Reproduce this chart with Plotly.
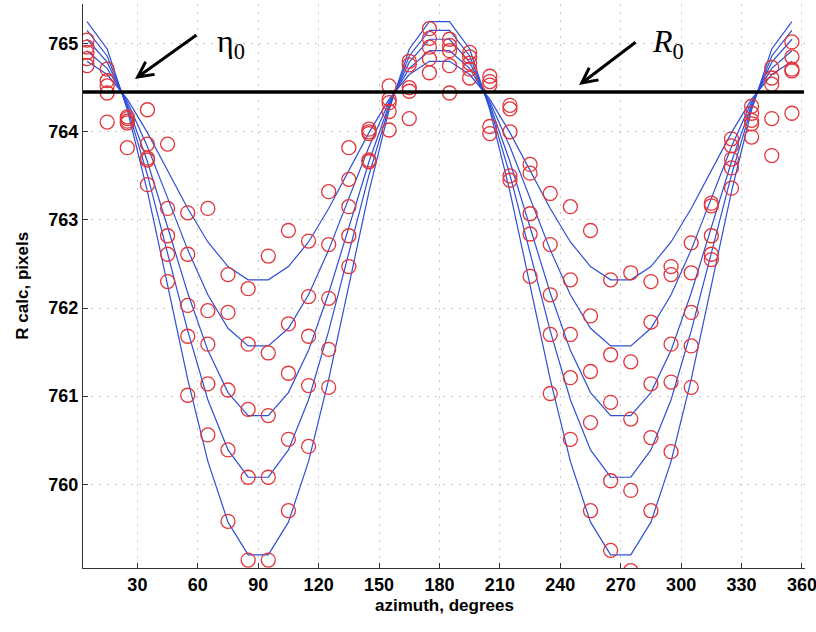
import plotly.graph_objects as go

# ---------------- data ----------------
azimuth = [5, 15, 25, 35, 45, 55, 65, 75, 85, 95, 105, 115, 125, 135, 145, 155, 165, 175,
           185, 195, 205, 215, 225, 235, 245, 255, 265, 275, 285, 295, 305, 315, 325, 335, 345, 355]

R0 = 764.45

# fitted curves (blue lines)
fit1 = [764.80, 764.65, 764.37, 763.99, 763.56, 763.13, 762.75, 762.47, 762.32,
        762.32, 762.47, 762.75, 763.13, 763.56, 763.99, 764.37, 764.65, 764.80,
        764.80, 764.65, 764.37, 763.99, 763.56, 763.13, 762.75, 762.47, 762.32,
        762.32, 762.47, 762.75, 763.13, 763.56, 763.99, 764.37, 764.65, 764.80]
fit2 = [764.92, 764.72, 764.34, 763.83, 763.25, 762.66, 762.15, 761.77, 761.57,
        761.57, 761.77, 762.15, 762.66, 763.25, 763.83, 764.34, 764.72, 764.92,
        764.92, 764.72, 764.34, 763.83, 763.25, 762.66, 762.15, 761.77, 761.57,
        761.57, 761.77, 762.15, 762.66, 763.25, 763.83, 764.34, 764.72, 764.92]
fit3 = [765.05, 764.79, 764.31, 763.66, 762.92, 762.17, 761.52, 761.04, 760.78,
        760.78, 761.04, 761.52, 762.17, 762.92, 763.66, 764.31, 764.79, 765.05,
        765.05, 764.79, 764.31, 763.66, 762.92, 762.17, 761.52, 761.04, 760.78,
        760.78, 761.04, 761.52, 762.17, 762.92, 763.66, 764.31, 764.79, 765.05]
fit4 = [765.15, 764.86, 764.28, 763.51, 762.62, 761.74, 760.96, 760.39, 760.08,
        760.08, 760.39, 760.96, 761.74, 762.62, 763.51, 764.28, 764.86, 765.15,
        765.15, 764.86, 764.28, 763.51, 762.62, 761.74, 760.96, 760.39, 760.08,
        760.08, 760.39, 760.96, 761.74, 762.62, 763.51, 764.28, 764.86, 765.15]
fit5 = [765.25, 764.94, 764.25, 763.32, 762.26, 761.19, 760.26, 759.57, 759.20,
        759.20, 759.57, 760.26, 761.19, 762.26, 763.32, 764.25, 764.94, 765.25,
        765.25, 764.94, 764.25, 763.32, 762.26, 761.19, 760.26, 759.57, 759.20,
        759.20, 759.57, 760.26, 761.19, 762.26, 763.32, 764.25, 764.94, 765.25]

# measured values (red circles)
meas1 = [764.75, 764.11, 764.17, 764.25, 763.86, 763.08, 763.13, 762.38, 762.22,
         762.59, 762.88, 762.76, 763.32, 763.82, 764.03, 764.52, 764.15, 764.67,
         764.44, 764.61, 764.63, 764.30, 763.63, 763.30, 763.15, 762.88, 762.32,
         762.40, 762.30, 762.47, 762.74, 763.19, 763.92, 764.29, 763.73, 764.21]
meas2 = [764.83, 764.44, 764.15, 763.86, 763.13, 762.61, 761.97, 761.95, 761.59,
         761.49, 761.82, 762.13, 762.72, 763.46, 764.00, 764.37, 764.46, 764.83,
         764.75, 764.71, 764.57, 764.26, 763.53, 762.72, 762.32, 761.91, 761.47,
         761.39, 761.84, 762.38, 762.40, 763.16, 763.84, 764.21, 764.15, 764.69]
meas3 = [764.90, 764.52, 764.12, 763.70, 762.82, 762.03, 761.59, 761.07, 760.85,
         760.78, 761.26, 761.68, 762.11, 763.15, 763.98, 764.33, 764.50, 764.96,
         764.92, 764.78, 764.53, 764.00, 763.07, 762.15, 761.70, 761.28, 760.93,
         760.74, 761.14, 761.59, 761.95, 762.82, 763.69, 764.13, 764.54, 764.71]
meas4 = [764.96, 764.58, 764.10, 763.68, 762.61, 761.68, 761.14, 760.39, 760.08,
         760.08, 760.51, 761.12, 761.53, 762.82, 763.68, 764.23, 764.76, 765.06,
         764.98, 764.85, 764.06, 763.50, 762.84, 761.70, 761.21, 760.70, 760.04,
         759.93, 760.53, 761.16, 761.57, 762.61, 763.59, 764.09, 764.61, 764.85]
meas5 = [765.04, 764.71, 763.82, 763.40, 762.30, 761.01, 760.56, 759.58, 759.14,
         759.14, 759.70, 760.43, 761.10, 762.47, 763.66, 764.02, 764.80, 765.17,
         765.05, 764.90, 763.98, 763.45, 762.36, 761.03, 760.51, 759.70, 759.25,
         759.02, 759.70, 760.37, 761.10, 762.55, 763.36, 763.94, 764.73, 765.02]

x_ticks = [30, 60, 90, 120, 150, 180, 210, 240, 270, 300, 330, 360]
y_ticks = [760, 761, 762, 763, 764, 765]

fits = [fit1, fit2, fit3, fit4, fit5]
measured = [meas1, meas2, meas3, meas4, meas5]

BLUE = "#2d4fd6"
RED = "#e2343a"

fig = go.Figure()
for f in fits:
    fig.add_trace(go.Scatter(x=azimuth, y=f, mode="lines",
                             line=dict(color=BLUE, width=1.2),
                             showlegend=False, hoverinfo="skip"))
for m in measured:
    fig.add_trace(go.Scatter(x=azimuth, y=m, mode="markers",
                             marker=dict(symbol="circle-open", size=14,
                                         color=RED, line=dict(width=1.3, color=RED)),
                             showlegend=False, hoverinfo="skip"))

# R0 reference line
fig.add_shape(type="line", xref="x", yref="y", x0=3, x1=361, y0=R0, y1=R0,
              line=dict(color="black", width=3.5), layer="above")

tickfont = dict(family="Liberation Sans, Arial, sans-serif", size=18, color="black", weight="bold")
titlefont = dict(family="Liberation Sans, Arial, sans-serif", size=17, color="black", weight="bold")
grid = dict(showgrid=True, gridcolor="#c8c8c8", griddash="2px,6px", gridwidth=1,
            zeroline=False, showline=True, linecolor="#333333", linewidth=1.2,
            ticks="inside", ticklen=5, tickcolor="#333333", tickfont=tickfont,
            mirror=False, automargin=False, ticklabeloverflow="allow")

fig.update_xaxes(range=[3, 361.5], tickvals=x_ticks, **grid)
fig.update_yaxes(range=[759.05, 765.45], tickvals=y_ticks, **grid)

serif = "Liberation Serif, Times New Roman, serif"
annotations = [
    # axis titles
    dict(text="azimuth, degrees", xref="paper", yref="paper", x=0.5, y=-0.067,
         xanchor="center", yanchor="middle", showarrow=False, font=titlefont),
    dict(text="R calc, pixels", xref="paper", yref="paper", x=-0.085, y=0.5,
         xanchor="center", yanchor="middle", showarrow=False, textangle=-90, font=titlefont),
    # eta_0 arrow + label
    dict(text="", x=28.8, y=764.60, xref="x", yref="y", ax=63, ay=-45,
         showarrow=True, arrowhead=5, arrowsize=1, arrowwidth=3, arrowcolor="black"),
    dict(text="η<sub>0</sub>", x=76.5, y=765.0, xref="x", yref="y", showarrow=False,
         xanchor="center", yanchor="middle", font=dict(family=serif, size=32, color="black")),
    # R_0 arrow + label
    dict(text="", x=249.3, y=764.53, xref="x", yref="y", ax=58, ay=-44,
         showarrow=True, arrowhead=5, arrowsize=1, arrowwidth=3, arrowcolor="black"),
    dict(text="<i>R</i><sub>0</sub>", x=293.5, y=765.0, xref="x", yref="y", showarrow=False,
         xanchor="center", yanchor="middle", font=dict(family=serif, size=32, color="black")),
]

fig.update_layout(
    width=816, height=632, autosize=False,
    margin=dict(l=83, r=11, t=4, b=64, pad=0),
    plot_bgcolor="white", paper_bgcolor="white",
    annotations=annotations, showlegend=False,
)

fig.write_html("out.html", config={"displayModeBar": False},
               post_script="document.body.style.margin='0';document.body.style.overflow='hidden';")
